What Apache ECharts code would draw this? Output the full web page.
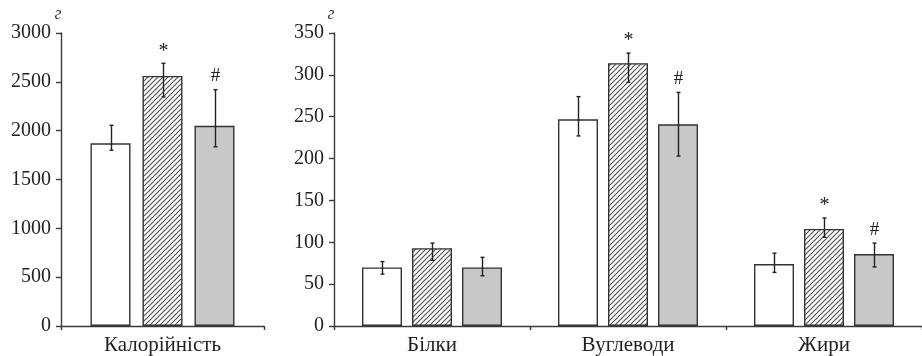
<!DOCTYPE html>
<html><head><meta charset="utf-8">
<script src="https://cdn.jsdelivr.net/npm/echarts@6/dist/echarts.min.js"></script>
<style>html,body{margin:0;padding:0;background:#fff}#c{width:922px;height:356px}</style>
</head><body><div id="c"></div>
<script>
// ---- data ----
var catsLeft = ['Калорійність'];
var calWhite = [1870], calWhiteLo = [1800], calWhiteHi = [2055];
var calHatch = [2560], calHatchLo = [2345], calHatchHi = [2690];
var calGrey = [2050], calGreyLo = [1835], calGreyHi = [2420];
var calMarks = ['', '*', '#'];

var catsRight = ['Білки', 'Вуглеводи', 'Жири'];
var nWhite = [70, 247, 74], nWhiteLo = [62, 227, 64], nWhiteHi = [77, 274, 87];
var nHatch = [93, 314, 116], nHatchLo = [78.5, 291, 106], nHatchHi = [99, 326, 129];
var nGrey = [70, 241, 86], nGreyLo = [60, 203, 70.5], nGreyHi = [82, 279, 99];
var hatchMarks = ['', '*', '*'];
var greyMarks = ['', '#', '#'];

var leftTicks = [0, 500, 1000, 1500, 2000, 2500, 3000];
var rightTicks = [0, 50, 100, 150, 200, 250, 300, 350];
var unit = 'г';

// ---- styles ----
var FONT = 'Liberation Serif';
var AX = '#3a3a3a';
function hatchPattern() {
  var c = document.createElement('canvas');
  c.width = 5; c.height = 5;
  var g = c.getContext('2d');
  g.fillStyle = '#fff'; g.fillRect(0, 0, 5, 5);
  g.strokeStyle = '#555'; g.lineWidth = 1.2;
  g.beginPath();
  g.moveTo(-1, 6); g.lineTo(6, -1);
  g.moveTo(-1, 1); g.lineTo(1, -1);
  g.moveTo(4, 6); g.lineTo(6, 4);
  g.stroke();
  return c;
}
var fills = ['#ffffff', {image: hatchPattern(), repeat: 'repeat'}, '#c8c8c8'];

function barSeries(data, idx, gi, gap) {
  return {
    type: 'bar', xAxisIndex: gi, yAxisIndex: gi, data: data,
    barWidth: 40, barGap: gap, silent: true,
    itemStyle: {color: fills[idx], borderColor: '#333', borderWidth: 1.4}
  };
}
function errSeries(lo, hi, marks, idx, gi, step) {
  var d = lo.map(function (v, i) { return [i, v, hi[i], marks[i] || '']; });
  return {
    type: 'custom', xAxisIndex: gi, yAxisIndex: gi, data: d, silent: true, z: 10,
    renderItem: function (params, api) {
      var c = api.value(0);
      var pLo = api.coord([c, api.value(1)]);
      var pHi = api.coord([c, api.value(2)]);
      var x = Math.round(pLo[0] + (idx - 1) * step) + 0.5;
      var st = {stroke: '#222', lineWidth: 1.4};
      var children = [
        {type: 'line', shape: {x1: x, y1: pLo[1], x2: x, y2: pHi[1]}, style: st},
        {type: 'line', shape: {x1: x - 2, y1: pLo[1], x2: x + 2, y2: pLo[1]}, style: st},
        {type: 'line', shape: {x1: x - 2, y1: pHi[1], x2: x + 2, y2: pHi[1]}, style: st}
      ];
      var m = d[params.dataIndex][3];
      if (m) {
        children.push({type: 'text', style: {
          text: m, x: x, y: pHi[1] - (m === '*' ? 2 : 4),
          align: 'center', verticalAlign: 'bottom',
          font: (m === '*' ? '20px ' : '19px ') + FONT, fill: '#222'
        }});
      }
      return {type: 'group', children: children};
    }
  };
}

function xAx(gi, cats) {
  return {
    type: 'category', gridIndex: gi, data: cats,
    axisLine: {lineStyle: {color: AX, width: 1.4}},
    axisTick: {show: true, length: 4, lineStyle: {color: AX, width: 1.4}},
    axisLabel: {color: '#222', fontFamily: FONT, fontSize: 21, margin: 9}
  };
}
function yAx(gi, max, interval) {
  return {
    type: 'value', gridIndex: gi, min: 0, max: max, interval: interval,
    name: unit, nameLocation: 'end', nameGap: 7,
    nameTextStyle: {fontFamily: FONT, fontStyle: 'italic', fontSize: 18, color: '#444', padding: [0, 6, 0, 0]},
    axisLine: {show: true, lineStyle: {color: AX, width: 1.4}},
    axisTick: {show: true, length: 5, lineStyle: {color: AX, width: 1.4}},
    axisLabel: {color: '#222', fontFamily: FONT, fontSize: 20, margin: 10,
      formatter: function (v) { return String(v); }},
    splitLine: {show: false}
  };
}

var chart = echarts.init(document.getElementById('c'), null, {renderer: 'canvas'});
chart.setOption({
  animation: false,
  grid: [
    {left: 61, right: 922 - 264, top: 33, bottom: 30, containLabel: false},
    {left: 334, right: 0, top: 33, bottom: 30, containLabel: false}
  ],
  xAxis: [xAx(0, catsLeft), xAx(1, catsRight)],
  yAxis: [yAx(0, 3000, 500), yAx(1, 350, 50)],
  series: [
    barSeries(calWhite, 0, 0, '30%'),
    barSeries(calHatch, 1, 0, '30%'),
    barSeries(calGrey, 2, 0, '30%'),
    errSeries(calWhiteLo, calWhiteHi, ['', '', ''], 0, 0, 52),
    errSeries(calHatchLo, calHatchHi, [calMarks[1]], 1, 0, 52),
    errSeries(calGreyLo, calGreyHi, [calMarks[2]], 2, 0, 52),
    barSeries(nWhite, 0, 1, '25%'),
    barSeries(nHatch, 1, 1, '25%'),
    barSeries(nGrey, 2, 1, '25%'),
    errSeries(nWhiteLo, nWhiteHi, ['', '', ''], 0, 1, 50),
    errSeries(nHatchLo, nHatchHi, hatchMarks, 1, 1, 50),
    errSeries(nGreyLo, nGreyHi, greyMarks, 2, 1, 50)
  ]
});
</script></body></html>
